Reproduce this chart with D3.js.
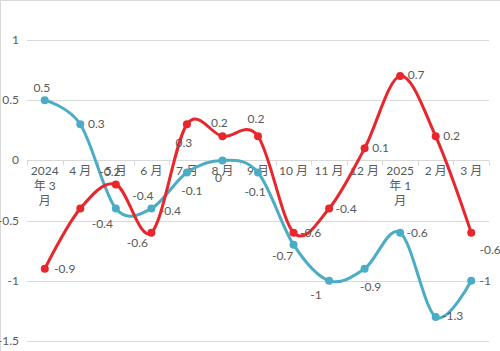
<!DOCTYPE html>
<html>
<head>
<meta charset="utf-8">
<script src="https://cdn.jsdelivr.net/npm/d3@7"></script>
<style>
  body { margin: 0; background: #fff; }
  text { font-family: Lato, "Noto Sans CJK SC", sans-serif; fill: #595959; }
</style>
</head>
<body>
<div id="chart"></div>
<script>
// categories (multi-line labels as Excel wraps them)
var categories = [
  ["2024", "年 3", "月"], ["4 月"], ["5 月"], ["6 月"], ["7 月"], ["8 月"], ["9 月"],
  ["10 月"], ["11 月"], ["12 月"], ["2025", "年 1", "月"], ["2 月"], ["3 月"]
];
var redValues = [-0.9, -0.4, -0.2, -0.6, 0.3, 0.2, 0.2, -0.6, -0.4, 0.1, 0.7, 0.2, -0.6];
var blueValues = [0.5, 0.3, -0.4, -0.4, -0.1, 0, -0.1, -0.7, -1, -0.9, -0.6, -1.3, -1];
var yTicks = [-1.5, -1, -0.5, 0, 0.5, 1];

// where each data label sits relative to its point
var redLabelPos = [[20, 0], [22, 15], [-6, -12], [-14, 10], [-3, 19], [-3, -13], [-2, -17],
  [17, 0], [17, 0], [16, 0], [16, -1], [16, 0], [19, 17]];
var blueLabelPos = [[-3, -12], [16, 0], [27, -13], [19, 2], [5, 19], [-4, 18], [-3, 20],
  [-11, 11], [-13, 14], [6, 18], [17, 0], [17, -1], [14, 0]];

var width = 500, height = 351;
var plotLeft = 27, plotRight = 489, plotTop = 40, plotBottom = 341;

var svg = d3.select("#chart").append("svg")
  .attr("width", width)
  .attr("height", height);

// chart border, only top and left edge visible
svg.append("line").attr("x1", 0.5).attr("x2", 0.5).attr("y1", 0).attr("y2", height)
  .attr("stroke", "#d9d9d9");
svg.append("line").attr("x1", 0).attr("x2", width).attr("y1", 0.5).attr("y2", 0.5)
  .attr("stroke", "#d9d9d9");

var x = d3.scaleBand()
  .domain(d3.range(categories.length))
  .range([plotLeft, plotRight]);

var y = d3.scaleLinear()
  .domain([-1.5, 1])
  .range([plotBottom, plotTop]);

function cx(i) { return x(i) + x.bandwidth() / 2; }

// gridlines
svg.selectAll(".grid")
  .data(yTicks)
  .enter().append("line")
  .attr("x1", plotLeft).attr("x2", plotRight)
  .attr("y1", function(d) { return Math.round(y(d)) + 0.5; })
  .attr("y2", function(d) { return Math.round(y(d)) + 0.5; })
  .attr("stroke", "#d9d9d9");

// y labels
svg.selectAll(".ylab")
  .data(yTicks)
  .enter().append("text")
  .attr("x", 19)
  .attr("y", function(d) { return y(d) + 4; })
  .attr("text-anchor", "end")
  .style("font-size", "12px")
  .text(function(d) { return d; });

// category axis at zero
var y0 = Math.round(y(0)) + 0.5;
svg.selectAll(".tick")
  .data(d3.range(categories.length + 1))
  .enter().append("line")
  .attr("x1", function(d) { return Math.round(plotLeft + d * x.step()) + 0.5; })
  .attr("x2", function(d) { return Math.round(plotLeft + d * x.step()) + 0.5; })
  .attr("y1", y0).attr("y2", y0 + 5)
  .attr("stroke", "#d9d9d9");

var catText = svg.selectAll(".cat")
  .data(categories)
  .enter().append("text")
  .attr("text-anchor", "middle")
  .style("font-size", "12px");

catText.selectAll("tspan")
  .data(function(d, i) { return d.map(function(s) { return { s: s, i: i }; }); })
  .enter().append("tspan")
  .attr("x", function(d) { return cx(d.i); })
  .attr("y", function(d, j) { return y0 + 14 + j * 15; })
  .text(function(d) { return d.s; });

var line = d3.line()
  .x(function(d, i) { return cx(i); })
  .y(function(d) { return y(d); })
  .curve(d3.curveCardinal.tension(0));

function drawSeries(values, color) {
  svg.append("path")
    .datum(values)
    .attr("d", line)
    .attr("fill", "none")
    .attr("stroke", color)
    .attr("stroke-width", 3)
    .attr("stroke-linejoin", "round");

  svg.selectAll(null)
    .data(values)
    .enter().append("circle")
    .attr("cx", function(d, i) { return cx(i); })
    .attr("cy", function(d) { return y(d); })
    .attr("r", 4)
    .attr("fill", color);
}

function drawLabels(values, labelPos) {
  svg.selectAll(null)
    .data(values)
    .enter().append("text")
    .attr("x", function(d, i) { return cx(i) + labelPos[i][0]; })
    .attr("y", function(d, i) { return y(d) + labelPos[i][1] + 4; })
    .attr("text-anchor", "middle")
    .style("font-size", "12px")
    .text(function(d) { return d; });
}

drawSeries(blueValues, "#4bacc6");
drawSeries(redValues, "#e8262b");
drawLabels(blueValues, blueLabelPos);
drawLabels(redValues, redLabelPos);
</script>
</body>
</html>
